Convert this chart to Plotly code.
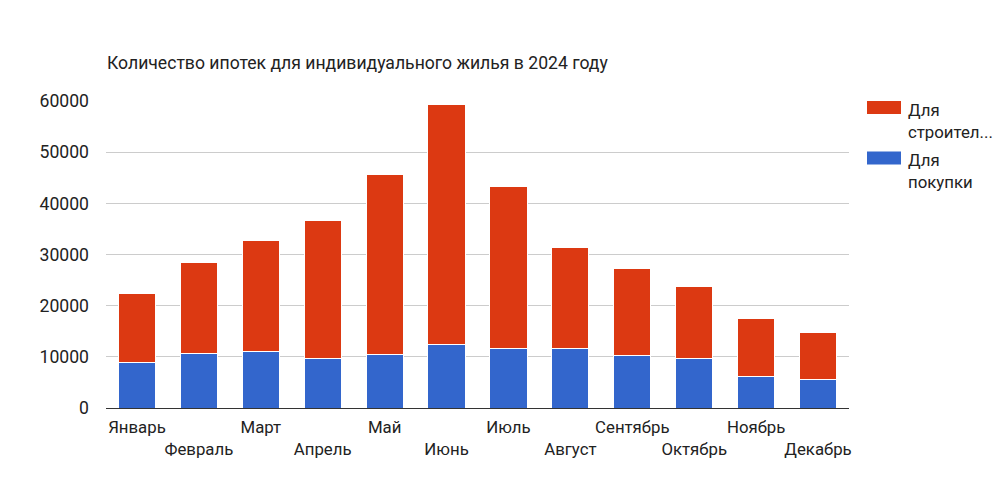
import plotly.graph_objects as go

months = ["Январь", "Февраль", "Март", "Апрель", "Май", "Июнь",
          "Июль", "Август", "Сентябрь", "Октябрь", "Ноябрь", "Декабрь"]
purchase = [8800, 10700, 11000, 9750, 10500, 12400,
            11700, 11700, 10300, 9750, 6100, 5600]
construction = [13600, 17700, 21800, 26950, 35200, 47000,
                31600, 19600, 16900, 13950, 11300, 9200]
series_names = ["Для покупки", "Для строительства"]
legend_labels = ["Для<br>строител...", "Для<br>покупки"]
y_ticks = [0, 10000, 20000, 30000, 40000, 50000, 60000]
title_text = "Количество ипотек для индивидуального жилья в 2024 году"

BLUE = "#3366cc"
RED = "#dc3912"
FONT = "Roboto, Arial, sans-serif"
TXT = "#222222"

fig = go.Figure()
fig.add_trace(go.Bar(x=months, y=purchase, name=series_names[0],
                     marker=dict(color=BLUE, line=dict(color="white", width=1)),
                     showlegend=False))
fig.add_trace(go.Bar(x=months, y=construction, name=series_names[1],
                     marker=dict(color=RED, line=dict(color="white", width=1)),
                     showlegend=False))

ticktext = [m if i % 2 == 0 else "<br>" + m for i, m in enumerate(months)]

# page body has an 8px margin; figure is sized/offset to compensate
OFF = 8
W, H = 1008 - OFF, 485 - OFF
L, T = 106 - OFF, 101 - OFF
R = W - (849 - OFF)
B = H - (408.3 - OFF)
PW, PH = W - L - R, H - T - B


def px_x(x):
    return (x - OFF - L) / PW


def px_y(y):
    return (H - B - (y - OFF)) / PH


fig.update_layout(
    width=W, height=H,
    barmode="stack", bargap=0.4,
    paper_bgcolor="white", plot_bgcolor="white",
    margin=dict(l=L, r=R, t=T, b=B),
    font=dict(family=FONT, size=17, color=TXT),
    title=dict(text=title_text, x=(107 - OFF) / W, xanchor="left", xref="container",
               y=1 - (63 - OFF) / H, yanchor="middle", yref="container",
               font=dict(family=FONT, size=17.6, color=TXT)),
    xaxis=dict(tickmode="array", tickvals=months, ticktext=ticktext,
               tickangle=0, showgrid=False, showline=True, linecolor="#333333",
               linewidth=1, ticks="", tickfont=dict(size=16.8, color=TXT),
               ticklabelstandoff=4),
    yaxis=dict(range=[0, 60000], tickvals=y_ticks, showgrid=True,
               gridcolor="#cccccc", gridwidth=1, zeroline=True,
               zerolinecolor="#333333", zerolinewidth=1,
               tickformat="d", ticklabelstandoff=16,
               tickfont=dict(size=17.6, color=TXT)),
)

# Legend (drawn manually to match wide swatches)
legend_items = [(RED, legend_labels[0], 101), (BLUE, legend_labels[1], 151.5)]
for color, label, ytop in legend_items:
    fig.add_shape(type="rect", xref="paper", yref="paper",
                  x0=px_x(867), x1=px_x(901),
                  y0=px_y(ytop + 13), y1=px_y(ytop),
                  fillcolor=color, line=dict(width=0))
    fig.add_annotation(text=label, xref="paper", yref="paper",
                       x=px_x(906), xanchor="left",
                       y=px_y(ytop - 3), yanchor="top",
                       showarrow=False, align="left",
                       font=dict(family=FONT, size=16.8, color=TXT))

fig.write_html("out.html")
